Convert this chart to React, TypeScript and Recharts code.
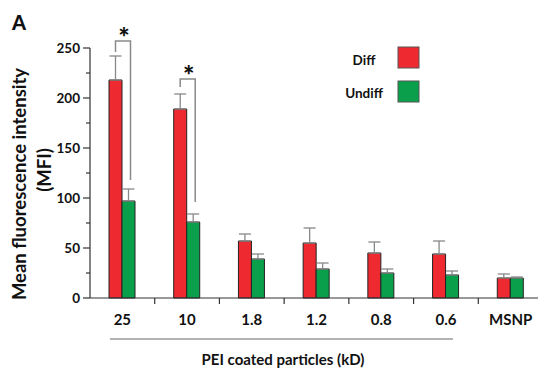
import React from "react";
import { BarChart, Bar, XAxis, YAxis, ErrorBar, LabelList, Legend } from "recharts";

const particles = ["25", "10", "1.8", "1.2", "0.8", "0.6", "MSNP"];
const diffMfi = [218, 189, 57, 55, 45, 44, 20];
const diffSd = [24, 15, 7, 15, 11, 13, 4];
const undiffMfi = [97, 76, 39, 29, 25, 23, 20];
const undiffSd = [12, 8, 5, 6, 4, 4, 1];
const yTicks = [0, 25, 50, 75, 100, 125, 150, 175, 200, 225, 250];

// significance brackets (MFI units)
const sigCats = ["25", "10"];
const sigTop = [257, 219];
const sigLeftEnd = [246, 211];
const sigRightEnd = [118, 96];

const RED = "#ee2a30";
const GREEN = "#0aa04b";
const FONT = "Lato, 'Open Sans', sans-serif";

const W = 545;
const H = 368;
const M = { top: 48, right: 2, bottom: 0, left: 0 };
const Y_W = 90;
const BAND = (W - M.left - M.right - Y_W) / particles.length;

const rows = particles.map((cat, i) => ({
  cat,
  diff: diffMfi[i],
  undiff: undiffMfi[i],
  diffErr: [0, diffSd[i]],
  undiffErr: [0, undiffSd[i]],
}));

const YTick = (p: any) => {
  const v = p.payload.value;
  const major = v % 50 === 0;
  return (
    <g>
      <line x1={p.x - (major ? 7 : 4)} x2={p.x} y1={p.y} y2={p.y} stroke="#333" strokeWidth={1.2} />
      {major && (
        <text x={p.x - 10} y={p.y + 4.5} textAnchor="end" fontSize={13.5} fontWeight={700} fill="#111" fontFamily={FONT}>
          {v}
        </text>
      )}
    </g>
  );
};

const XTick = (p: any) => (
  <g>
    <line x1={p.x + BAND / 2} x2={p.x + BAND / 2} y1={p.y} y2={p.y + 6} stroke="#333" strokeWidth={1.2} />
    <text x={p.x} y={p.y + 27} textAnchor="middle" fontSize={15} fontWeight={700} fill="#111" fontFamily={FONT}>
      {p.payload.value}
    </text>
  </g>
);

const SigMark = (p: any) => {
  const k = sigCats.indexOf(p.value);
  if (k < 0) return null;
  const i = particles.indexOf(p.value);
  const x = Number(p.x), y = Number(p.y), w = Number(p.width), h = Number(p.height);
  const perUnit = h / diffMfi[i];
  const py = (v: number) => y + h - v * perUnit;
  const xl = x + w / 2;
  const xr = x + w * 1.5 + 2;
  return (
    <g>
      <path
        d={`M${xl},${py(sigLeftEnd[k])}V${py(sigTop[k])}H${xr}V${py(sigRightEnd[k])}`}
        fill="none"
        stroke="#8a8a8a"
        strokeWidth={1.5}
      />
      <text x={(xl + xr) / 2 + 1} y={py(sigTop[k]) + 6} textAnchor="middle" fontSize={27} fontWeight={900} fill="#111" fontFamily={FONT}>
        *
      </text>
    </g>
  );
};

const YTitle = (p: any) => {
  const vb = p.viewBox;
  const cy = vb.y + vb.height / 2 + 11;
  return (
    <g fontFamily={FONT} fontWeight={700} fill="#111">
      <text x={12} y={30} fontSize={20} fontWeight={900}>A</text>
      <text x={19} y={cy} transform={`rotate(-90 19 ${cy})`} textAnchor="middle" dominantBaseline="central" fontSize={18.5}>
        Mean fluorescence intensity
      </text>
      <text x={44} y={cy - 14} transform={`rotate(-90 44 ${cy - 14})`} textAnchor="middle" dominantBaseline="central" fontSize={18.5}>
        (MFI)
      </text>
    </g>
  );
};

const XTitle = (p: any) => {
  const vb = p.viewBox;
  return (
    <g>
      <line x1={vb.x + 20} x2={vb.x + 363} y1={vb.y + 41} y2={vb.y + 41} stroke="#9a9a9a" strokeWidth={1.5} />
      <text x={vb.x + 193} y={vb.y + 67} textAnchor="middle" fontSize={15} fontWeight={700} fill="#111" fontFamily={FONT}>
        PEI coated particles (kD)
      </text>
    </g>
  );
};

const LegendBox = () => (
  <svg width={100} height={62} style={{ display: "block" }}>
    <g fontFamily={FONT} fontWeight={700} fontSize={13.5} fill="#111">
      <text x={34} y={20.5} textAnchor="middle">Diff</text>
      <text x={34} y={53.5} textAnchor="middle">Undiff</text>
    </g>
    <rect x={68} y={3} width={21} height={21} fill={RED} stroke="#555" />
    <rect x={68} y={37} width={21} height={21} fill={GREEN} stroke="#555" />
  </svg>
);

export default function App() {
  return (
    <div style={{ position: "absolute", left: 0, top: 0, width: 538, height: 368, overflow: "hidden", background: "#fff" }}>
      <BarChart width={W} height={H} data={rows} margin={M} barSize={13} barGap={0}>
        <YAxis
          width={Y_W}
          domain={[0, 250]}
          ticks={yTicks}
          interval={0}
          tick={<YTick />}
          tickLine={false}
          tickSize={0}
          tickMargin={0}
          axisLine={{ stroke: "#333", strokeWidth: 1.2 }}
          label={<YTitle />}
        />
        <XAxis
          dataKey="cat"
          height={70}
          interval={0}
          tick={<XTick />}
          tickLine={false}
          tickSize={0}
          tickMargin={0}
          axisLine={{ stroke: "#333", strokeWidth: 1.2 }}
          label={<XTitle />}
        />
        <Legend layout="vertical" align="center" verticalAlign="middle" wrapperStyle={{ left: 330, top: 44, width: 100, height: 62 }} content={<LegendBox />} />
        <Bar dataKey="diff" name="Diff" fill={RED} stroke="#222" strokeWidth={1} isAnimationActive={false}>
          <ErrorBar dataKey="diffErr" width={6} stroke="#888" strokeWidth={1.3} direction="y" isAnimationActive={false} />
          <LabelList dataKey="cat" content={<SigMark />} />
        </Bar>
        <Bar dataKey="undiff" name="Undiff" fill={GREEN} stroke="#222" strokeWidth={1} isAnimationActive={false}>
          <ErrorBar dataKey="undiffErr" width={6} stroke="#888" strokeWidth={1.3} direction="y" isAnimationActive={false} />
        </Bar>
      </BarChart>
    </div>
  );
}
